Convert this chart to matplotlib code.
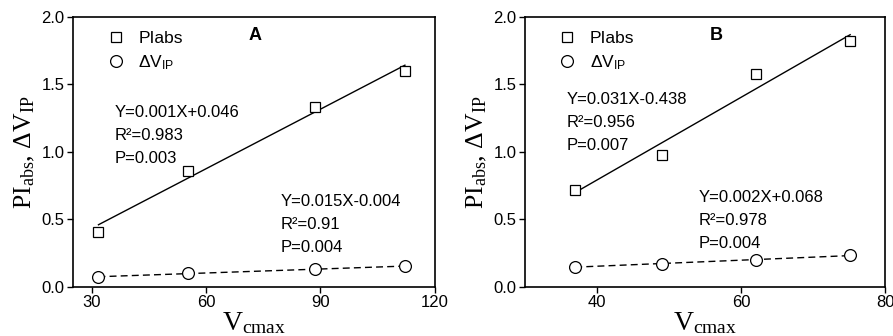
import numpy as np
import matplotlib
matplotlib.use("Agg")
import matplotlib.pyplot as plt

plt.rcParams['font.family'] = ['Liberation Sans', 'DejaVu Sans']
plt.rcParams['mathtext.fontset'] = 'custom'
plt.rcParams['mathtext.rm'] = 'Liberation Serif'
plt.rcParams['mathtext.it'] = 'Liberation Serif:italic'
plt.rcParams['mathtext.sf'] = 'Liberation Sans'

# panel A
vcmax_a = [31.7, 55.1, 88.5, 112.2]
pi_a = [0.41, 0.86, 1.33, 1.60]
dv_a = [0.075, 0.10, 0.13, 0.155]
eq_pi_a = ["Y=0.001X+0.046", "R²=0.983", "P=0.003"]
eq_dv_a = ["Y=0.015X-0.004", "R²=0.91", "P=0.004"]

# panel B
vcmax_b = [37.0, 49.0, 62.0, 75.1]
pi_b = [0.72, 0.98, 1.58, 1.82]
dv_b = [0.15, 0.17, 0.20, 0.235]
eq_pi_b = ["Y=0.031X-0.438", "R²=0.956", "P=0.007"]
eq_dv_b = ["Y=0.002X+0.068", "R²=0.978", "P=0.004"]

fig = plt.figure(figsize=(8.93, 3.36), dpi=100)
ax_a = fig.add_axes([0.0817, 0.146, 0.405, 0.804])
ax_b = fig.add_axes([0.5876, 0.146, 0.404, 0.804])


def fit_line(ax, x, y, ls):
    x = np.asarray(x); y = np.asarray(y)
    k, b = np.polyfit(x, y, 1)
    xx = np.array([x.min(), x.max()])
    ax.plot(xx, k * xx + b, color='black', lw=1.0, ls=ls, dashes=(5, 3) if ls == '--' else (None, None), zorder=2)


def eq_block(ax, x, y, lines):
    # one line every 23 px, 135 px per 1.0 on y
    for i, s in enumerate(lines):
        ax.text(x, y - i * 23 / 135, s, fontsize=12, va='center', ha='left')


def panel(ax, x, pi, dv, xlim, xticks, tag, tag_x, eq1, pos1, eq2, pos2):
    fit_line(ax, x, pi, '-')
    fit_line(ax, x, dv, '--')
    ax.plot(x, pi, ls='none', marker='s', ms=7.5, mfc='white', mec='black', mew=0.9, zorder=3,
            label='PIabs')
    ax.plot(x, dv, ls='none', marker='o', ms=8.5, mfc='white', mec='black', mew=0.9, zorder=3,
            label=r'ΔV$_{\mathsf{IP}}$')
    ax.set_xlim(*xlim)
    ax.set_ylim(0, 2.0)
    ax.set_xticks(xticks)
    ax.set_yticks([0, 0.5, 1.0, 1.5, 2.0])
    ax.set_yticklabels(['0.0', '0.5', '1.0', '1.5', '2.0'])
    ax.tick_params(direction='out', length=4, width=1, labelsize=12, pad=2)
    for sp in ax.spines.values():
        sp.set_linewidth(1.2)
    ax.set_xlabel(r'$\mathrm{V_{cmax}}$', fontsize=20, labelpad=0)
    ax.set_ylabel(r'$\mathrm{PI_{abs},\,\Delta V_{IP}}$', fontsize=18.5, labelpad=3)
    ax.legend(loc='upper left', bbox_to_anchor=(0.07, 0.975), frameon=False, fontsize=12.5,
              handlelength=1.2, handletextpad=0.7, borderaxespad=0, labelspacing=0.45)
    ax.text(tag_x, 0.93, tag, transform=ax.transAxes, fontsize=13, fontweight='bold',
            ha='center', va='center')
    eq_block(ax, pos1[0], pos1[1], eq1)
    eq_block(ax, pos2[0], pos2[1], eq2)


panel(ax_a, vcmax_a, pi_a, dv_a, (25, 120), [30, 60, 90, 120], 'A', 0.503,
      eq_pi_a, (36.0, 1.29), eq_dv_a, (79.6, 0.632))
panel(ax_b, vcmax_b, pi_b, dv_b, (30, 80), [40, 60, 80], 'B', 0.53,
      eq_pi_b, (35.8, 1.385), eq_dv_b, (54.1, 0.664))

fig.savefig('out.png', dpi=100)
